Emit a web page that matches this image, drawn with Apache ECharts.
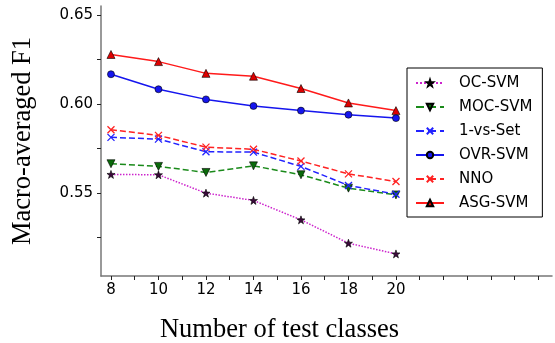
<!DOCTYPE html>
<html><head><meta charset="utf-8">
<script src="https://cdn.jsdelivr.net/npm/echarts@6/dist/echarts.min.js"></script>
<style>html,body{margin:0;padding:0;background:#fff}#c{width:555px;height:343px}</style>
</head><body><div id="c"></div>
<script>
const categories = [8, 10, 12, 14, 16, 18, 20];
const ocSvm  = [0.5605, 0.5603, 0.5500, 0.5459, 0.5350, 0.5219, 0.5159];
const mocSvm = [0.5665, 0.5650, 0.5616, 0.5653, 0.5603, 0.5528, 0.5490];
const oneVsSet = [0.5813, 0.5803, 0.5732, 0.5730, 0.5650, 0.5543, 0.5494];
const ovrSvm = [0.6167, 0.6083, 0.6026, 0.5989, 0.5963, 0.5940, 0.5921];
const nno    = [0.5856, 0.5824, 0.5758, 0.5746, 0.5680, 0.5608, 0.5565];
const asgSvm = [0.6278, 0.6238, 0.6172, 0.6156, 0.6087, 0.6006, 0.5963];
const xTickLabels = [8, 10, 12, 14, 16, 18, 20];
const xMinorTicks = [8, 9, 10, 11, 12, 13, 14, 15, 16, 17, 18, 19, 20, 21, 22, 23, 24, 25, 26];
const yTickLabels = [0.55, 0.60, 0.65];
const yMinorTicks = [0.525, 0.55, 0.575, 0.60, 0.625, 0.65];

const STAR = 'path://M0,-10L2.35,-3.24L9.51,-3.09L3.8,1.24L5.88,8.09L0,4L-5.88,8.09L-3.8,1.24L-9.51,-3.09L-2.35,-3.24Z';
const XMARK = 'path://M-5,-5L5,5M5,-5L-5,5';
const pair = arr => categories.map((c, i) => [c, arr[i]]);

function mk(name, data, color, type, symbol, fill, size, extra) {
  return Object.assign({
    name, type: 'line', data: pair(data), symbol, symbolSize: size,
    lineStyle: { color, width: 1.5, type },
    itemStyle: { color: fill, borderColor: symbol === XMARK ? color : '#000', borderWidth: symbol === XMARK ? 1.3 : 0.6 },
    emphasis: { disabled: true }, animation: false, z: 3
  }, extra || {});
}

const chart = echarts.init(document.getElementById('c'), null, { renderer: 'canvas' });
chart.setOption({
  animation: false,
  grid: { left: 101, right: 3, top: 6, bottom: 67, containLabel: false, outerBoundsMode: 'none' },
  legend: {
    orient: 'vertical', left: 407, top: 68, width: 137,
    padding: [7, 10, 6, 8],
    backgroundColor: '#fff', borderColor: '#000', borderWidth: 1,
    itemWidth: 28, itemHeight: 8, itemGap: 8,
    textStyle: { fontFamily: 'DejaVu Sans', fontSize: 15, color: '#000', padding: [0, 0, 0, 10], lineHeight: 16 },
    data: ['OC-SVM', 'MOC-SVM', '1-vs-Set', 'OVR-SVM', 'NNO', 'ASG-SVM']
  },
  xAxis: {
    type: 'value', min: 7.58, max: 26.57,
    name: 'Number of test classes', nameLocation: 'middle', nameGap: 41,
    nameTextStyle: { fontFamily: 'Liberation Serif', fontSize: 26.5, color: '#000', padding: [0, 94, 0, 0] },
    axisLine: { lineStyle: { color: '#777', width: 1.5 } },
    axisTick: { show: true, inside: false, length: 4, lineStyle: { color: '#222' }, customValues: xMinorTicks },
    axisLabel: { customValues: xTickLabels, fontFamily: 'DejaVu Sans', fontSize: 15, color: '#000', margin: 7 },
    splitLine: { show: false }
  },
  yAxis: {
    type: 'value', min: 0.5035, max: 0.655,
    name: 'Macro-averaged F1', nameLocation: 'middle', nameGap: 64,
    nameTextStyle: { fontFamily: 'Liberation Serif', fontSize: 26.5, color: '#000' },
    axisLine: { show: true, lineStyle: { color: '#777', width: 1.5 } },
    axisTick: { show: true, inside: false, length: 4, lineStyle: { color: '#222' }, customValues: yMinorTicks },
    axisLabel: { customValues: yTickLabels, fontFamily: 'DejaVu Sans', fontSize: 15, color: '#000', margin: 8,
      formatter: v => v.toFixed(2) },
    splitLine: { show: false }
  },
  series: [
    mk('OC-SVM', ocSvm, '#cc22cc', 'dotted', STAR, '#3a0a3a', 8),
    mk('MOC-SVM', mocSvm, '#1a8a1a', 'dashed', 'triangle', '#0a6a0a', 8, { symbolRotate: 180 }),
    mk('1-vs-Set', oneVsSet, '#2222ff', 'dashed', XMARK, '#2222ff', 7),
    mk('OVR-SVM', ovrSvm, '#1515ee', 'solid', 'circle', '#1515ee', 7),
    mk('NNO', nno, '#ff2222', 'dashed', XMARK, '#ff2222', 7),
    mk('ASG-SVM', asgSvm, '#ff1a1a', 'solid', 'triangle', '#dd0000', 8)
  ]
});
</script></body></html>
